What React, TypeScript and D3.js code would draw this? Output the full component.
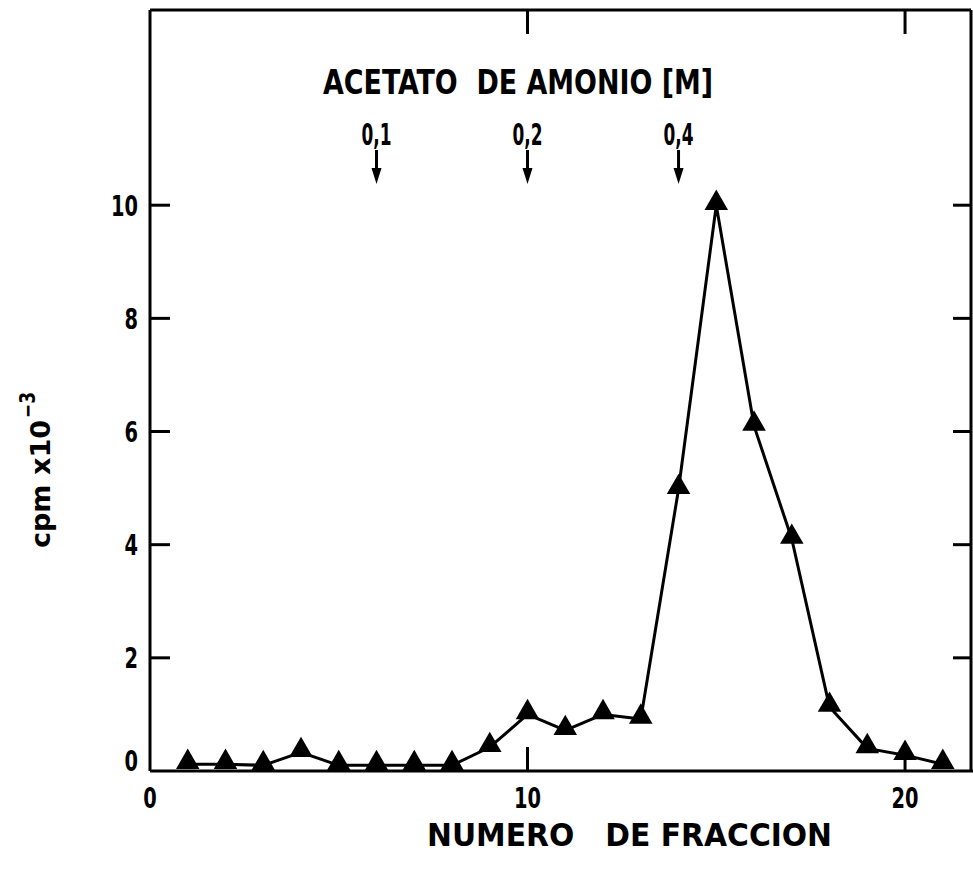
import { useEffect, useRef } from "react"
import * as d3 from "d3"

// fraction number vs cpm x 10^-3
const fractions = [1, 2, 3, 4, 5, 6, 7, 8, 9, 10, 11, 12, 13, 14, 15, 16, 17, 18, 19, 20, 21]
const cpm = [0.12, 0.12, 0.1, 0.33, 0.1, 0.1, 0.1, 0.1, 0.42, 1.0, 0.72, 1.0, 0.92, 4.98, 10.0, 6.1, 4.1, 1.13, 0.4, 0.28, 0.12]

// salt step arrows
const saltLabels = ["0,1", "0,2", "0,4"]
const saltFractions = [6, 10, 14]

const xTicks = [0, 10, 20]
const yTicks = [0, 2, 4, 6, 8, 10]

const FONT = "'DejaVu Sans Condensed', 'DejaVu Sans', sans-serif"

export default function App() {
  const svgRef = useRef<SVGSVGElement>(null)

  useEffect(() => {
    if (!svgRef.current) return
    const svg = d3.select(svgRef.current)
    svg.selectAll("*").remove()

    const x = d3.scaleLinear().domain([0, 21.8]).range([150, 973])
    const y = d3.scaleLinear().domain([0, 13.45]).range([771, 10])

    const ink = "#000"

    // frame (left, top, right, bottom)
    const frame = svg.append("g").attr("stroke", ink).attr("stroke-width", 3).attr("fill", "none")
    frame.append("line").attr("x1", x(0)).attr("x2", x(0)).attr("y1", y(13.45)).attr("y2", y(0))
    frame.append("line").attr("x1", x(0)).attr("x2", 971).attr("y1", y(13.45)).attr("y2", y(13.45))
    frame.append("line").attr("x1", 971).attr("x2", 971).attr("y1", y(13.45)).attr("y2", y(0))
    frame.append("line").attr("x1", x(0)).attr("x2", 973).attr("y1", y(0)).attr("y2", y(0))

    // inward ticks
    const ticks = svg.append("g").attr("stroke", ink).attr("stroke-width", 3)
    yTicks.filter((d) => d > 0).forEach((d) => {
      ticks.append("line").attr("x1", x(0)).attr("x2", x(0) + 20).attr("y1", y(d)).attr("y2", y(d))
      ticks.append("line").attr("x1", 971).attr("x2", 953).attr("y1", y(d)).attr("y2", y(d))
    })
    xTicks.filter((d) => d > 0).forEach((d) => {
      ticks.append("line").attr("x1", x(d)).attr("x2", x(d)).attr("y1", y(0)).attr("y2", y(0) - 24)
      ticks.append("line").attr("x1", x(d)).attr("x2", x(d)).attr("y1", y(13.45)).attr("y2", y(13.45) + 24)
    })

    const text = svg.append("g").attr("font-family", FONT).attr("font-weight", "bold").attr("fill", ink)

    // y tick labels
    text.selectAll("text.yt")
      .data(yTicks)
      .join("text")
      .attr("class", "yt")
      .attr("x", 138)
      .attr("y", (d) => y(d) - (d === 0 ? 10 : 0))
      .attr("dy", "0.36em")
      .attr("text-anchor", "end")
      .attr("font-size", 29)
      .attr("textLength", (d) => String(d).length * 13.5)
      .attr("lengthAdjust", "spacingAndGlyphs")
      .text((d) => d)

    // x tick labels
    text.selectAll("text.xt")
      .data(xTicks)
      .join("text")
      .attr("class", "xt")
      .attr("x", (d) => x(d))
      .attr("y", 808)
      .attr("text-anchor", "middle")
      .attr("font-size", 29)
      .attr("textLength", (d) => String(d).length * 13.5)
      .attr("lengthAdjust", "spacingAndGlyphs")
      .text((d) => d)

    // axis titles
    text.append("text")
      .attr("x", 427)
      .attr("y", 846)
      .attr("font-size", 32)
      .attr("textLength", 405)
      .attr("lengthAdjust", "spacingAndGlyphs")
      .style("white-space", "pre")
      .text("NUMERO   DE FRACCION")

    text.append("text")
      .attr("transform", "translate(50,548) rotate(-90)")
      .attr("font-size", 27)
      .attr("textLength", 128)
      .attr("lengthAdjust", "spacingAndGlyphs")
      .style("white-space", "pre")
      .text("cpm x10")
    text.append("text")
      .attr("transform", "translate(35,418) rotate(-90)")
      .attr("font-size", 22)
      .attr("textLength", 26)
      .attr("lengthAdjust", "spacingAndGlyphs")
      .text("\u22123")

    // salt gradient annotation
    text.append("text")
      .attr("x", 323)
      .attr("y", 94)
      .attr("font-size", 33)
      .attr("textLength", 390)
      .attr("lengthAdjust", "spacingAndGlyphs")
      .style("white-space", "pre")
      .text("ACETATO  DE AMONIO [M]")

    saltFractions.forEach((f, i) => {
      text.append("text")
        .attr("x", x(f))
        .attr("y", 145)
        .attr("text-anchor", "middle")
        .attr("font-size", 30)
        .attr("textLength", 30)
        .attr("lengthAdjust", "spacingAndGlyphs")
        .text(saltLabels[i])
      const ax = x(f)
      svg.append("line")
        .attr("x1", ax).attr("x2", ax)
        .attr("y1", 150).attr("y2", 172)
        .attr("stroke", ink).attr("stroke-width", 3)
      svg.append("path")
        .attr("d", `M${ax - 5},168 L${ax + 5},168 L${ax},184 Z`)
        .attr("fill", ink)
    })

    // data line
    const line = d3.line<number>()
      .x((_, i) => x(fractions[i]))
      .y((d) => y(d))

    svg.append("path")
      .datum(cpm)
      .attr("d", line)
      .attr("fill", "none")
      .attr("stroke", ink)
      .attr("stroke-width", 3)
      .attr("stroke-linejoin", "round")

    // triangle markers
    const tri = d3.symbol().type(d3.symbolTriangle).size(240)
    svg.selectAll("path.pt")
      .data(cpm)
      .join("path")
      .attr("class", "pt")
      .attr("transform", (d, i) => `translate(${x(fractions[i])},${y(d) - 2})`)
      .attr("d", tri)
      .attr("fill", ink)
  }, [])

  return (
    <svg
      ref={svgRef}
      width={973}
      height={869}
      style={{ position: "absolute", left: 0, top: 0, background: "#fff" }}
    />
  )
}
